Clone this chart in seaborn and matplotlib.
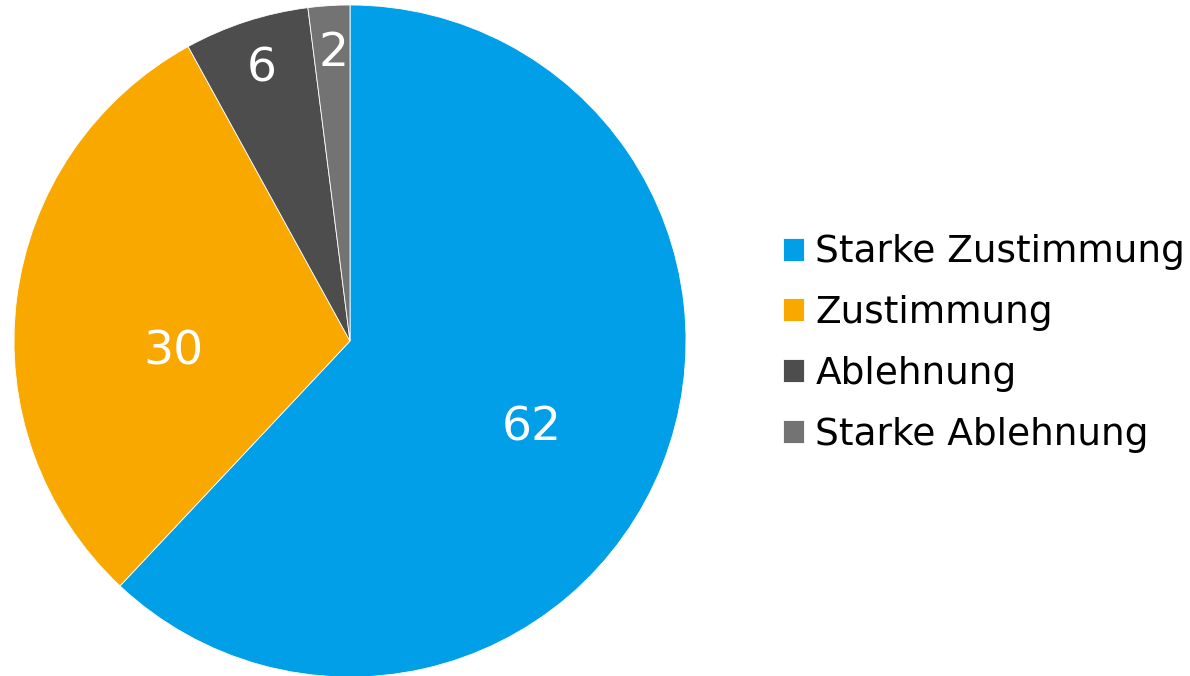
import numpy as np
import matplotlib
matplotlib.use('Agg')
import matplotlib.pyplot as plt
import seaborn as sns

# ── Data ───────────────────────────────────────────────────────────────────
categories = ['Starke Zustimmung', 'Zustimmung', 'Ablehnung', 'Starke Ablehnung']
values = [62, 30, 6, 2]
colors = ['#009FE8', '#F9A800', '#4D4D4D', '#737373']

# label placement: radial distance and small angular shift (deg) per slice
label_dist = [0.594, 0.527, 0.865, 0.873]
label_shift = [-2.7, 9.1, -0.4, -0.3]

sns.set_theme(style='white')
plt.rcParams['font.family'] = ['DejaVu Sans']
plt.rcParams['text.color'] = 'black'

W, H = 1190, 676
fig = plt.figure(figsize=(W / 100, H / 100), dpi=100)

# pie centre ~ (350, 341) px, radius ~ 336 px
cx, cy, r = 350, 341, 336
ax = fig.add_axes([(cx - r) / W, (H - cy - r) / H, 2 * r / W, 2 * r / H])

wedges, _ = ax.pie(values, colors=colors, startangle=90, counterclock=False,
                   radius=1, wedgeprops={'edgecolor': 'white', 'linewidth': 0.6})
ax.set_xlim(-1, 1)
ax.set_ylim(-1, 1)
ax.set_aspect('equal')
ax.axis('off')

# value labels inside the slices
for w, val, d, s in zip(wedges, values, label_dist, label_shift):
    ang = np.deg2rad((w.theta1 + w.theta2) / 2 + s)
    ax.text(d * np.cos(ang), d * np.sin(ang), str(val), ha='center',
            va='center_baseline', color='white', fontsize=34)

fig.legend(wedges, categories, loc='center left',
           bbox_to_anchor=(783 / W, 1 - 343.5 / H), bbox_transform=fig.transFigure,
           frameon=False, fontsize=27, borderpad=0, borderaxespad=0,
           handlelength=0.56, handleheight=0.56, handletextpad=0.3,
           labelspacing=0.66, labelcolor='black')

plt.savefig('out.png', dpi=100)
plt.close()
